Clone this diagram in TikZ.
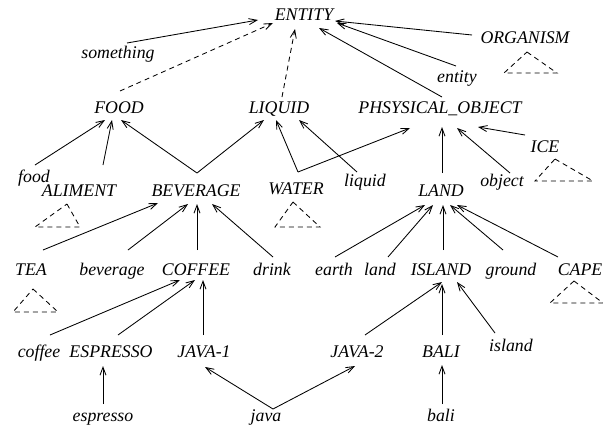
\documentclass[tikz,border=0pt]{standalone}
\usepackage{fontspec}
\newfontfamily\lblfont{Liberation Serif Italic}
\usetikzlibrary{arrows.meta}
\begin{document}
\begin{tikzpicture}[x=1pt,y=-1pt,
  lbl/.style={font=\lblfont\fontsize{17.8}{20}\selectfont, inner sep=0pt, anchor=base},
  arr/.style={line width=0.85pt, -{Straight Barb[length=8pt,width=6pt,line width=0.85pt]}},
  darr/.style={arr, dash pattern=on 5pt off 4pt},
  tri/.style={line width=0.85pt, dash pattern=on 5pt off 4pt}]
\useasboundingbox (0,0) rectangle (603,431);
% nodes
\node[lbl] (ENTITY) at (304,20) {ENTITY};
\node[lbl] (something) at (118,58) {something};
\node[lbl] (ORGANISM) at (525,43) {ORGANISM};
\node[lbl] (entity) at (457,82) {entity};
\node[lbl] (FOOD) at (119,113) {FOOD};
\node[lbl] (LIQUID) at (279,113) {LIQUID};
\node[lbl] (PHYS) at (440,113) {PHSYSICAL\_OBJECT};
\node[lbl] (ICE) at (545,152) {ICE};
\node[lbl] (food) at (34,182) {food};
\node[lbl] (ALIMENT) at (79,196) {ALIMENT};
\node[lbl] (BEVERAGE) at (196,196) {BEVERAGE};
\node[lbl] (WATER) at (296,194) {WATER};
\node[lbl] (liquid) at (365,186) {liquid};
\node[lbl] (LAND) at (441,196) {LAND};
\node[lbl] (object) at (502,186) {object};
\node[lbl] (TEA) at (31,275) {TEA};
\node[lbl] (beverage) at (112,275) {beverage};
\node[lbl] (COFFEE) at (196,275) {COFFEE};
\node[lbl] (drink) at (272,275) {drink};
\node[lbl] (earth) at (334,275) {earth};
\node[lbl] (land) at (380,275) {land};
\node[lbl] (ISLAND) at (441,275) {ISLAND};
\node[lbl] (ground) at (511,275) {ground};
\node[lbl] (CAPE) at (580,275) {CAPE};
\node[lbl] (coffee) at (39,357) {coffee};
\node[lbl] (ESPRESSO) at (111,357) {ESPRESSO};
\node[lbl] (JAVA1) at (204,357) {JAVA-1};
\node[lbl] (JAVA2) at (357,357) {JAVA-2};
\node[lbl] (BALI) at (441,357) {BALI};
\node[lbl] (island) at (511,351) {island};
\node[lbl] (espresso) at (103,421) {espresso};
\node[lbl] (java) at (266,421) {java};
\node[lbl] (bali) at (441,421) {bali};
% edges
\draw[arr] ([shift={(9,-15)}]something.base) -- ([shift={(-46,0)}]ENTITY.base);
\draw[darr] ([shift={(1,-22)}]FOOD.base) -- ([shift={(-31,3)}]ENTITY.base);
\draw[darr] ([shift={(3,-16)}]LIQUID.base) -- ([shift={(-9,9)}]ENTITY.base);
\draw[arr] ([shift={(-53,-8)}]ORGANISM.base) -- ([shift={(31,1)}]ENTITY.base);
\draw[arr] ([shift={(-1,-16)}]entity.base) -- ([shift={(33,3)}]ENTITY.base);
\draw[arr] ([shift={(2,-16)}]PHYS.base) -- ([shift={(15,8)}]ENTITY.base);
\draw[arr] ([shift={(1,-17)}]food.base) -- ([shift={(-14,7)}]FOOD.base);
\draw[arr] ([shift={(24,-31)}]ALIMENT.base) -- ([shift={(-7,7)}]FOOD.base);
\draw[arr] ([shift={(1,-23)}]BEVERAGE.base) -- ([shift={(2,7)}]FOOD.base);
\draw[arr] ([shift={(1,-23)}]BEVERAGE.base) -- ([shift={(-15,7)}]LIQUID.base);
\draw[arr] ([shift={(2,-22)}]WATER.base) -- ([shift={(-3,7)}]LIQUID.base);
\draw[arr] ([shift={(2,-22)}]WATER.base) -- ([shift={(-30,15)}]PHYS.base);
\draw[arr] ([shift={(-8,-14)}]liquid.base) -- ([shift={(20,7)}]LIQUID.base);
\draw[arr] ([shift={(1,-23)}]LAND.base) -- ([shift={(2,14)}]PHYS.base);
\draw[arr] ([shift={(8,-13)}]object.base) -- ([shift={(17,15)}]PHYS.base);
\draw[arr] ([shift={(-20,-17)}]ICE.base) -- ([shift={(38,14)}]PHYS.base);
\draw[arr] ([shift={(12,-25)}]TEA.base) -- ([shift={(-38,7)}]BEVERAGE.base);
\draw[arr] ([shift={(16,-25)}]beverage.base) -- ([shift={(-8,8)}]BEVERAGE.base);
\draw[arr] ([shift={(1,-25)}]COFFEE.base) -- ([shift={(1,8)}]BEVERAGE.base);
\draw[arr] ([shift={(1,-18)}]drink.base) -- ([shift={(16,8)}]BEVERAGE.base);
\draw[arr] ([shift={(1,-18)}]earth.base) -- ([shift={(-16,9)}]LAND.base);
\draw[arr] ([shift={(8,-18)}]land.base) -- ([shift={(-8,9)}]LAND.base);
\draw[arr] ([shift={(2,-25)}]ISLAND.base) -- ([shift={(2,9)}]LAND.base);
\draw[arr] ([shift={(-8,-25)}]ground.base) -- ([shift={(9,9)}]LAND.base);
\draw[arr] ([shift={(-22,-18)}]CAPE.base) -- ([shift={(16,9)}]LAND.base);
\draw[arr] ([shift={(11,-22)}]coffee.base) -- ([shift={(-16,5)}]COFFEE.base);
\draw[arr] ([shift={(7,-22)}]ESPRESSO.base) -- ([shift={(-1,5)}]COFFEE.base);
\draw[arr] ([shift={(-1,-22)}]JAVA1.base) -- ([shift={(7,5)}]COFFEE.base);
\draw[arr] ([shift={(0,-17)}]espresso.base) -- ([shift={(-8,9)}]ESPRESSO.base);
\draw[arr] ([shift={(7,-12)}]java.base) -- ([shift={(1,10)}]JAVA1.base);
\draw[arr] ([shift={(7,-12)}]java.base) -- ([shift={(-2,9)}]JAVA2.base);
\draw[arr] ([shift={(8,-22)}]JAVA2.base) -- ([shift={(1,7)}]ISLAND.base);
\draw[arr] ([shift={(1,-22)}]BALI.base) -- ([shift={(1,9)}]ISLAND.base);
\draw[arr] ([shift={(-16,-18)}]island.base) -- ([shift={(16,7)}]ISLAND.base);
\draw[arr] ([shift={(1,-17)}]bali.base) -- ([shift={(1,8)}]BALI.base);
% subtree triangles
\draw[tri] (527,52) -- (557,73) -- (504,73) -- cycle;
\draw[tri] (555,159) -- (593,181) -- (535,181) -- cycle;
\draw[tri] (67,204) -- (80,227) -- (35,227) -- cycle;
\draw[tri] (293,202) -- (320,227) -- (275,227) -- cycle;
\draw[tri] (33,289) -- (58,312) -- (13,312) -- cycle;
\draw[tri] (574,281) -- (603,303) -- (550,303) -- cycle;
\end{tikzpicture}
\end{document}
